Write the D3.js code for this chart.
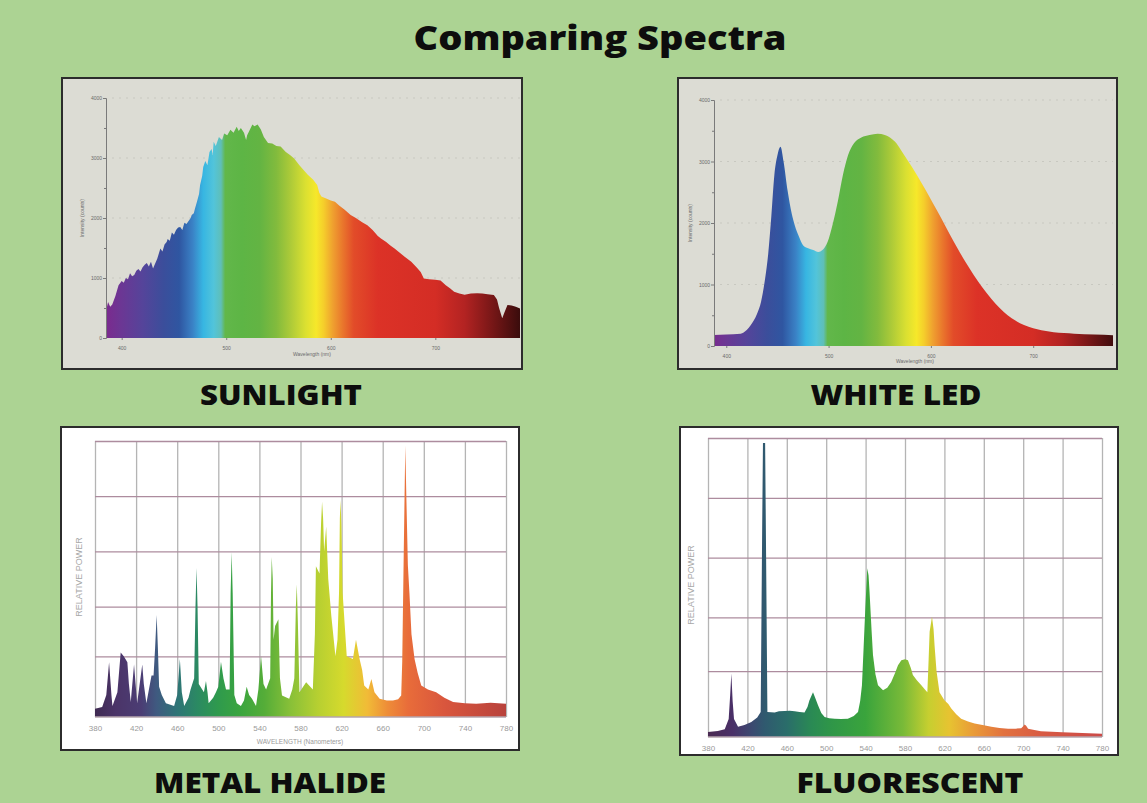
<!DOCTYPE html>
<html>
<head>
<meta charset="utf-8">
<script src="https://cdn.jsdelivr.net/npm/d3@7"></script>
<style>
  html, body { margin: 0; padding: 0; background: #acd393; }
  svg { display: block; }
  .heading { font-family: "Open Sans", sans-serif; font-weight: 800; fill: #0d0d0d; }
  .small { font-family: "Liberation Sans", Arial, sans-serif; }
</style>
</head>
<body>
<svg id="chart" width="1147" height="803"></svg>
<script>
// spectra: [wavelength nm, value]
const sunlight = [
  [385,450],[387,600],[389,520],[391,560],[394,700],[397,880],[400,950],[402,920],[404,1000],[406,980],
  [408,1080],[410,1030],[412,1050],[414,1120],[416,1150],[418,1110],[420,1180],[422,1220],[424,1250],[426,1190],
  [428,1270],[430,1160],[431,1200],[434,1320],[437,1490],[439,1440],[441,1560],[443,1600],[444,1650],[446,1620],
  [448,1760],[450,1720],[452,1800],[454,1840],[456,1850],[458,1800],[460,1920],[462,1900],[464,1950],[466,2000],
  [467,2050],[469,2080],[470,2150],[472,2270],[474,2400],[475,2550],[477,2700],[478,2850],[480,2950],[482,2880],
  [484,3100],[486,3150],[487,3050],[488,3270],[490,3200],[493,3350],[496,3300],[498,3410],[501,3380],[504,3470],
  [507,3420],[510,3520],[512,3450],[514,3500],[517,3420],[519,3300],[520,3380],[522,3450],[525,3560],[527,3530],
  [530,3560],[533,3480],[536,3350],[540,3250],[544,3240],[548,3200],[552,3190],[557,3100],[561,3050],[565,2990],
  [570,2880],[574,2800],[578,2720],[583,2640],[587,2550],[589,2420],[591,2360],[595,2330],[600,2290],[604,2270],
  [608,2210],[613,2140],[619,2050],[624,2000],[630,1930],[635,1880],[640,1800],[645,1700],[648,1660],[653,1600],
  [657,1540],[661,1490],[666,1420],[671,1350],[677,1270],[682,1180],[686,1100],[689,990],[694,980],[700,970],
  [705,960],[710,880],[714,830],[718,770],[723,740],[728,720],[734,740],[740,745],[745,740],[750,730],
  [756,715],[759,640],[761,500],[764,330],[766,420],[769,550],[773,540],[777,520],[781,490]
];

const whiteLed = [
  [388,180],[400,185],[414,200],[420,260],[424,340],[430,520],[434,720],[438,1100],[441,1500],[444,2100],
  [447,2780],[450,3100],[453,3240],[456,3000],[460,2520],[464,2150],[467,1960],[471,1780],[475,1640],[480,1590],
  [485,1560],[490,1530],[494,1560],[499,1690],[504,1980],[509,2350],[514,2780],[519,3100],[525,3300],[532,3390],
  [540,3430],[548,3450],[555,3430],[560,3390],[565,3320],[571,3180],[578,3000],[586,2790],[594,2560],[602,2320],
  [610,2080],[618,1830],[626,1590],[634,1360],[642,1150],[650,960],[659,770],[667,620],[675,500],[683,410],
  [691,340],[700,290],[708,256],[720,225],[730,210],[740,200],[760,185],[778,175]
];

const metalHalide = [
  [380,3],[387,3.6],[391,8],[393.7,19.8],[396,8],[397,4],[401.8,9],[405,23.4],[408,22],[411.5,19.8],
  [413,12],[414.8,5.4],[418,19],[419.5,12],[421,5],[426,19],[427.5,12],[430,5],[435,15],[437,15],
  [438.5,25],[440,37],[441.2,25],[442.4,11],[445,8],[449,5],[457,4],[460,8],[462.6,21],[464.5,9],
  [466.8,4],[471,7],[473,10],[476.5,14],[477.8,40],[478.8,54],[479.8,40],[481,12],[486,9],[488,13],
  [489.5,9],[490.6,5],[495,7],[497.7,9],[500,11],[502.6,20],[505,14],[507.5,10],[511,10],[512,45],
  [513,59.7],[514,45],[515.6,8],[518,5],[522,4],[525,6],[527.6,11],[530,8],[532.8,6.6],[536.7,4],
  [539,10],[541.6,22],[544,12],[546.5,10],[550.5,14],[551.3,45],[552,58],[553,50],[553.8,28],[555.3,33],
  [558.5,35.4],[560,14],[562,7.8],[569,6.6],[572,10],[574,14],[575.5,40],[576.4,48],[577.4,35],[579,9],
  [585.5,12.6],[592,10],[594,30],[595,54.6],[598.5,52],[600,70],[601,78],[602,72],[603,60],[605,69],
  [607,50],[610,36.6],[614,22],[616,28],[617.5,45],[618.3,72],[619,78.6],[619.8,70],[621,45],[625,22],
  [631,21],[634,28],[637.5,21],[640,17],[642,11.4],[646,10],[649,13.8],[652,9],[657,6.6],[664,6],
  [670,6],[675,6.4],[678,7.8],[679,20],[680.5,60],[682,98.4],[683,80],[684.5,55],[686,45],[688,30],
  [691,21],[694,16],[697.5,11.4],[704,10],[712,9],[720,7],[728.5,5.4],[740,5],[751,4.8],[765,5.2],
  [780,4.8]
];

const fluorescent = [
  [380,1.7],[390,2],[397,2.6],[401,6],[402.5,14],[403.7,21.2],[405,12],[406.4,6],[410.5,3.4],[417,4],
  [424,5],[430,6.5],[433.5,8.4],[435,70],[435.8,98.3],[438,98.3],[439,60],[440.3,8.4],[447.7,8.2],[452,8.6],
  [457.8,8.7],[463,8.8],[468,8.6],[473,8.4],[478,8.2],[481,10],[483,12.3],[486.6,15],[489,13],[491.7,10.6],
  [495,8],[498.4,6.7],[503,6.3],[508.6,6.1],[515,6],[522,6.1],[528,7],[532.3,8.4],[534.5,12],[536.3,17.3],
  [538,30],[539.7,43],[541.7,56.4],[543,54],[544,48.6],[546,36],[547.5,27.4],[550,21],[552.6,17.3],[557.7,15.6],
  [562,16.5],[566,18.4],[570,21.5],[572.9,24],[576.3,25.7],[580,26],[583,25.7],[586,23],[588,20.7],[592,19],
  [596.6,17.3],[600,16],[602.7,15],[604,26],[605,35.2],[607.4,40.2],[609,36],[610,30.7],[612,22],[615,15],
  [620,12.3],[624,11],[627,9.5],[632,7.6],[637,6.1],[644,5.2],[650.7,4.5],[660,3.9],[667.7,3.4],[676,3],
  [684.6,2.8],[692,2.8],[698,2.9],[700,3.6],[701.5,4.2],[703,3.8],[705,2.8],[710,2.4],[718,1.9],[740,1.6],
  [760,1.3],[780,1.1]
];

// axis ticks
const ledTicksX = [400, 500, 600, 700];
const countTicks = [0, 1000, 2000, 3000, 4000];
const countMinor = [500, 1500, 2500, 3500];
const nmTicks = [380, 420, 460, 500, 540, 580, 620, 660, 700, 740, 780];
const powerGrid = [22, 40, 60, 80, 100];

// colour of each wavelength in the fills
const daylightStops = [
  [385,"#7b2a8e"],[400,"#6b3794"],[420,"#55449a"],[440,"#3b4e9b"],[455,"#2f56a1"],[468,"#3a82c6"],
  [478,"#37b6e2"],[488,"#52c4da"],[495,"#5fbfb8"],[499,"#62b74a"],[515,"#5db545"],[532,"#63b443"],
  [548,"#82bb3d"],[562,"#aecb38"],[576,"#dbe031"],[586,"#f6e82a"],[593,"#f5cf2b"],[602,"#efa02f"],
  [612,"#e9742c"],[622,"#e24c29"],[645,"#dc3227"],[700,"#d42d25"],[728,"#b32322"],[752,"#7d1818"],[781,"#3a0c0c"]
];
const halideStops = [
  [380,"#3f2a52"],[400,"#4b3468"],[425,"#4b3d74"],[440,"#3f5a80"],[460,"#2e7476"],[480,"#2b8a62"],
  [500,"#2f9a4d"],[522,"#3ba53e"],[545,"#55ad38"],[570,"#88c038"],[598,"#b8d031"],[622,"#d6da2d"],
  [645,"#f1bb37"],[665,"#ee8c38"],[685,"#e86c3a"],[720,"#d9563d"],[780,"#b8423c"]
];
const fluorStops = [
  [380,"#4a2a52"],[405,"#4a3068"],[425,"#3b4a70"],[437,"#30596f"],[460,"#2a6d6a"],[485,"#2a8a54"],
  [505,"#2f9648"],[540,"#3aa43c"],[578,"#79ba38"],[604,"#c6cf30"],[625,"#e7c331"],[650,"#e99a38"],
  [680,"#e2713f"],[720,"#d85a44"],[780,"#cc4a48"]
];

const panels = [
  { kind: "counts", name: "SUNLIGHT", data: sunlight, stops: daylightStops,
    box: [62, 78, 460, 291], plot: [106, 98, 414, 240], xDomain: [385, 781],
    label: [281, 405, 162], yTitle: [84, 218], xTitle: [312, 356] },
  { kind: "counts", name: "WHITE LED", data: whiteLed, stops: daylightStops, smooth: true,
    box: [678, 78, 439, 291], plot: [714, 100, 399, 246], xDomain: [388, 778],
    label: [896, 405, 171], yTitle: [692, 223], xTitle: [915, 363] },
  { kind: "power", name: "METAL HALIDE", data: metalHalide, stops: halideStops,
    box: [61, 427, 458, 323], plot: [95, 441, 411, 276], xDomain: [380, 780],
    label: [270, 793, 232], yTitle: [82, 577], xTitle: [300, 744] },
  { kind: "power", name: "FLUORESCENT", data: fluorescent, stops: fluorStops,
    box: [680, 427, 438, 328], plot: [708, 438, 394, 299], xDomain: [380, 780],
    label: [910, 793, 227], yTitle: [694, 585], xTitle: null }
];

const svg = d3.select("#chart");
svg.append("rect").attr("width", 1147).attr("height", 803).attr("fill", "#acd393");

svg.append("text").attr("class", "heading")
  .attr("x", 600).attr("y", 50)
  .attr("text-anchor", "middle")
  .attr("font-size", 34)
  .attr("textLength", 373).attr("lengthAdjust", "spacingAndGlyphs")
  .text("Comparing Spectra");

panels.forEach((p, i) => drawPanel(p, i));

function drawPanel(p, i) {
  const [bx, by, bw, bh] = p.box;
  const [px, py, pw, ph] = p.plot;
  const g = svg.append("g");

  g.append("rect")
    .attr("x", bx).attr("y", by).attr("width", bw).attr("height", bh)
    .attr("fill", p.kind === "counts" ? "#dcdcd4" : "#ffffff")
    .attr("stroke", "#2c2c2c").attr("stroke-width", 2);

  const x = d3.scaleLinear().domain(p.xDomain).range([px, px + pw]);
  const y = p.kind === "counts"
    ? d3.scaleLinear().domain([0, 4000]).range([py + ph, py])
    : d3.scaleLinear().domain([0, 100]).range([py + ph, py]);

  // gradient along wavelength
  const gradId = "spec" + i;
  const grad = svg.append("defs").append("linearGradient")
    .attr("id", gradId)
    .attr("gradientUnits", "userSpaceOnUse")
    .attr("x1", x(p.stops[0][0])).attr("x2", x(p.stops[p.stops.length - 1][0]))
    .attr("y1", 0).attr("y2", 0);
  const span = p.stops[p.stops.length - 1][0] - p.stops[0][0];
  grad.selectAll("stop").data(p.stops).join("stop")
    .attr("offset", d => (d[0] - p.stops[0][0]) / span)
    .attr("stop-color", d => d[1]);

  const grey = "#9a9a9a";

  if (p.kind === "counts") {
    // faint dotted gridlines
    g.append("g").selectAll("line").data(countTicks.slice(1)).join("line")
      .attr("x1", px + 6).attr("x2", px + pw)
      .attr("y1", d => y(d)).attr("y2", d => y(d))
      .attr("stroke", "#c8c8c0").attr("stroke-dasharray", "2,5");

    const area = d3.area()
      .x(d => x(d[0])).y0(y(0)).y1(d => y(d[1]))
      .curve(p.smooth ? d3.curveMonotoneX : d3.curveLinear);
    g.append("path").datum(p.data).attr("d", area).attr("fill", `url(#${gradId})`);

    const yAxis = g.append("g").attr("transform", `translate(${px},0)`)
      .call(d3.axisLeft(y).tickValues(countTicks).tickFormat(d3.format("d")).tickSize(3).tickPadding(1));
    g.append("g").attr("transform", `translate(${px},0)`)
      .call(d3.axisLeft(y).tickValues(countMinor).tickSize(2).tickFormat(""))
      .select(".domain").remove();
    yAxis.selectAll("text").attr("font-size", 5).attr("fill", "#6a6a6a");

    const xAxis = g.append("g").attr("transform", `translate(0,${py + ph})`)
      .call(d3.axisBottom(x).tickValues(ledTicksX).tickSize(2).tickPadding(6));
    xAxis.select(".domain").remove();
    xAxis.selectAll("text").attr("font-size", 5).attr("fill", "#6a6a6a");
    g.selectAll(".tick line, .domain").attr("stroke", "#7a7a7a");

    g.append("text").attr("class", "small")
      .attr("transform", `translate(${p.yTitle[0]},${p.yTitle[1]}) rotate(-90)`)
      .attr("text-anchor", "middle").attr("font-size", 5).attr("fill", "#6a6a6a")
      .text("Intensity (counts)");
    g.append("text").attr("class", "small")
      .attr("x", p.xTitle[0]).attr("y", p.xTitle[1])
      .attr("text-anchor", "middle").attr("font-size", 5).attr("fill", "#6a6a6a")
      .text("Wavelength (nm)");
  } else {
    // vertical grid from the x axis
    const xGrid = g.append("g").attr("transform", `translate(0,${py + ph})`)
      .call(d3.axisBottom(x).tickValues(nmTicks).tickSize(-ph).tickPadding(8));
    xGrid.select(".domain").remove();
    xGrid.selectAll("line").attr("stroke", "#b4b4b4").attr("stroke-width", 1.3);
    xGrid.selectAll("text").attr("font-size", 8).attr("fill", grey)
      .attr("font-family", "Liberation Sans, Arial, sans-serif");

    const yGrid = g.append("g").attr("transform", `translate(${px},0)`)
      .call(d3.axisLeft(y).tickValues(powerGrid).tickSize(-pw).tickFormat(""));
    yGrid.select(".domain").remove();
    yGrid.selectAll("line").attr("stroke", "#ad8c9e").attr("stroke-width", 1.3);

    const area = d3.area()
      .x(d => x(d[0])).y0(y(0)).y1(d => y(d[1]))
      .curve(d3.curveLinear);
    g.append("path").datum(p.data).attr("d", area).attr("fill", `url(#${gradId})`);

    g.append("line")
      .attr("x1", px).attr("x2", px + pw).attr("y1", y(0)).attr("y2", y(0))
      .attr("stroke", "#b4a4ac").attr("stroke-width", 1.3);

    g.append("text").attr("class", "small")
      .attr("transform", `translate(${p.yTitle[0]},${p.yTitle[1]}) rotate(-90)`)
      .attr("text-anchor", "middle").attr("font-size", 9).attr("fill", "#a8a8a8")
      .text("RELATIVE POWER");
    if (p.xTitle) {
      g.append("text").attr("class", "small")
        .attr("x", p.xTitle[0]).attr("y", p.xTitle[1])
        .attr("text-anchor", "middle").attr("font-size", 6.5).attr("fill", grey)
        .text("WAVELENGTH (Nanometers)");
    }
  }

  svg.append("text").attr("class", "heading")
    .attr("x", p.label[0]).attr("y", p.label[1])
    .attr("text-anchor", "middle").attr("font-size", 29)
    .attr("textLength", p.label[2]).attr("lengthAdjust", "spacingAndGlyphs")
    .text(p.name);
}
</script>
</body>
</html>
